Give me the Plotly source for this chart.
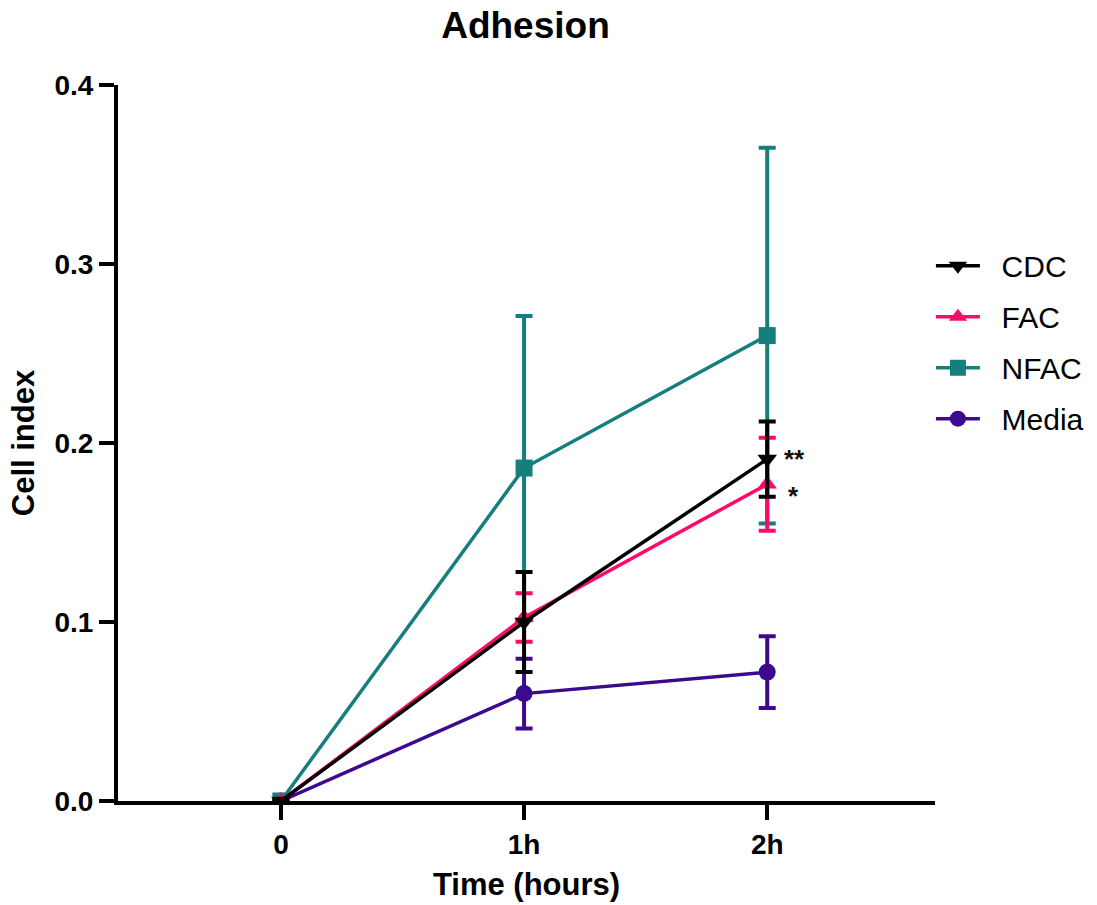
import plotly.graph_objects as go

# Time points on the x axis
time_labels = ["0", "1h", "2h"]

# Mean cell index per group
cdc_mean = [0.0, 0.100, 0.191]
fac_mean = [0.0, 0.1025, 0.177]
nfac_mean = [0.0, 0.186, 0.260]
media_mean = [0.0, 0.060, 0.072]

# Error (± half-range) per group
cdc_err = [0.0, 0.028, 0.021]
fac_err = [0.0, 0.0135, 0.026]
nfac_err = [0.0, 0.085, 0.105]
media_err = [0.0, 0.0195, 0.020]

# Significance marks at 2h
sig_cdc = "**"
sig_fac = "*"

FONT = "Liberation Sans, Arial, sans-serif"
PAD = "\u00a0\u00a0"

series = [
    # name, means, errors, colour, symbol, legend rank
    ("Media", media_mean, media_err, "#3B0A8F", "circle", 4),
    ("NFAC", nfac_mean, nfac_err, "#147F7C", "square", 3),
    ("FAC", fac_mean, fac_err, "#FF0A6C", "triangle-up", 2),
    ("CDC", cdc_mean, cdc_err, "#000000", "triangle-down", 1),
]

fig = go.Figure()
for name, mean, err, color, symbol, rank in series:
    fig.add_trace(go.Scatter(
        x=time_labels, y=mean, name=PAD + name, mode="lines+markers",
        line=dict(color=color, width=3.5),
        marker=dict(symbol=symbol, size=17, color=color),
        error_y=dict(type="data", array=err, color=color, thickness=4, width=8.5),
        legendrank=rank, legendgroup=name,
    ))

fig.add_annotation(x="2h", y=cdc_mean[2], text="<b>" + sig_cdc + "</b>", showarrow=False,
                   xshift=27, yshift=0, font=dict(family=FONT, size=26, color="#111"))
fig.add_annotation(x="2h", y=fac_mean[2], text="<b>" + sig_fac + "</b>", showarrow=False,
                   xshift=26, yshift=-12, font=dict(family=FONT, size=26, color="#111"))

fig.update_layout(
    width=1097, height=905,
    margin=dict(l=118, r=162, t=85, b=104, autoexpand=False),
    paper_bgcolor="white", plot_bgcolor="white",
    title=dict(text="<b>Adhesion</b>", x=0.479, xanchor="center", y=0.972, yanchor="middle",
               font=dict(family=FONT, size=37, color="black")),
    font=dict(family=FONT, color="black"),
    showlegend=True,
    legend=dict(x=0.995, xanchor="left", y=0.784, yanchor="top",
                font=dict(family=FONT, size=30, color="black"),
                tracegroupgap=9, itemwidth=44, bgcolor="rgba(0,0,0,0)"),
)

fig.update_xaxes(
    type="category", range=[-0.67, 2.69], automargin=False,
    showline=True, linecolor="black", linewidth=4,
    ticks="outside", ticklen=15, tickwidth=4, tickcolor="black",
    tickfont=dict(family=FONT, size=28, color="black", weight="bold"),
    title=dict(text="<b>Time (hours)</b>", font=dict(family=FONT, size=31, color="black"), standoff=16),
    showgrid=False, zeroline=False,
)
fig.update_yaxes(
    range=[0, 0.4], tickvals=[0, 0.1, 0.2, 0.3, 0.4], ticktext=["0.0", "0.1", "0.2", "0.3", "0.4"],
    automargin=False,
    showline=True, linecolor="black", linewidth=4,
    ticks="outside", ticklen=15, tickwidth=4, tickcolor="black",
    tickfont=dict(family=FONT, size=28, color="black", weight="bold"),
    title=dict(text="<b>Cell index</b>", font=dict(family=FONT, size=31, color="black"), standoff=12),
    showgrid=False, zeroline=False,
)

fig.write_html("out.html")
